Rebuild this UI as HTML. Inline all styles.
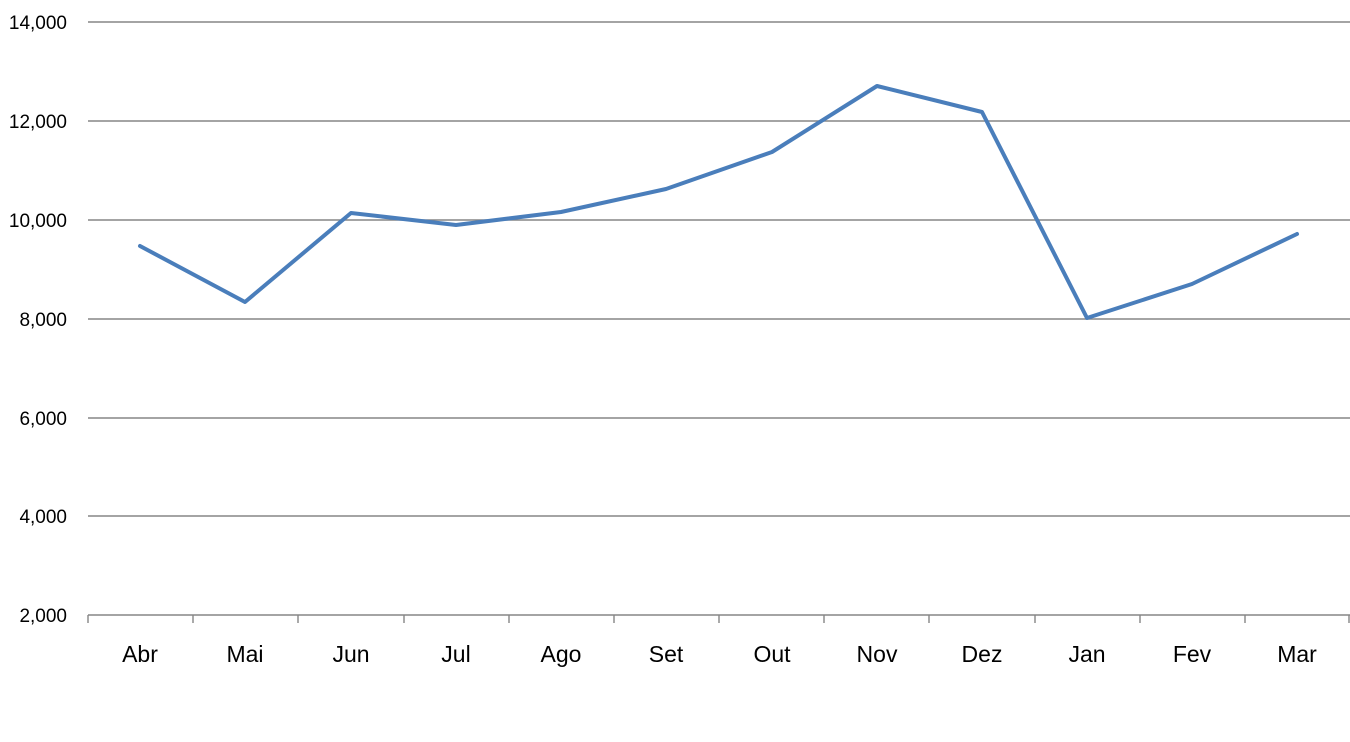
<!DOCTYPE html>
<html><head><style>body{margin:0;background:#fff}svg{display:block}text{font-family:"Liberation Sans",sans-serif;fill:#000}</style></head>
<body>
<svg width="1350" height="742" viewBox="0 0 1350 742">
<g stroke="#868686" stroke-width="1.4">
<line x1="88" y1="22" x2="1350" y2="22"/>
<line x1="88" y1="121" x2="1350" y2="121"/>
<line x1="88" y1="220" x2="1350" y2="220"/>
<line x1="88" y1="319" x2="1350" y2="319"/>
<line x1="88" y1="418" x2="1350" y2="418"/>
<line x1="88" y1="516" x2="1350" y2="516"/>
<line x1="88" y1="615" x2="1350" y2="615"/>
<path d="M88 615v8M193 615v8M298 615v8M404 615v8M509 615v8M614 615v8M719 615v8M824 615v8M929 615v8M1035 615v8M1140 615v8M1245 615v8M1349 615v8"/>
</g>
<g font-size="19" text-anchor="end">
<text x="67" y="29">14,000</text>
<text x="67" y="128">12,000</text>
<text x="67" y="227">10,000</text>
<text x="67" y="326">8,000</text>
<text x="67" y="425">6,000</text>
<text x="67" y="523">4,000</text>
<text x="67" y="622">2,000</text>
</g>
<g font-size="23" text-anchor="middle">
<text x="140" y="662">Abr</text><text x="245" y="662">Mai</text><text x="351" y="662">Jun</text><text x="456" y="662">Jul</text><text x="561" y="662">Ago</text><text x="666" y="662">Set</text><text x="772" y="662">Out</text><text x="877" y="662">Nov</text><text x="982" y="662">Dez</text><text x="1087" y="662">Jan</text><text x="1192" y="662">Fev</text><text x="1297" y="662">Mar</text>
</g>
<polyline fill="none" stroke="#4a7ebb" stroke-width="4" stroke-linejoin="round" stroke-linecap="round"
points="140,246 245,302 351,213 456,225 561,212 666,189 772,152 877,86 982,112 1087,318 1192,284 1297,234"/>
</svg>
</body></html>
